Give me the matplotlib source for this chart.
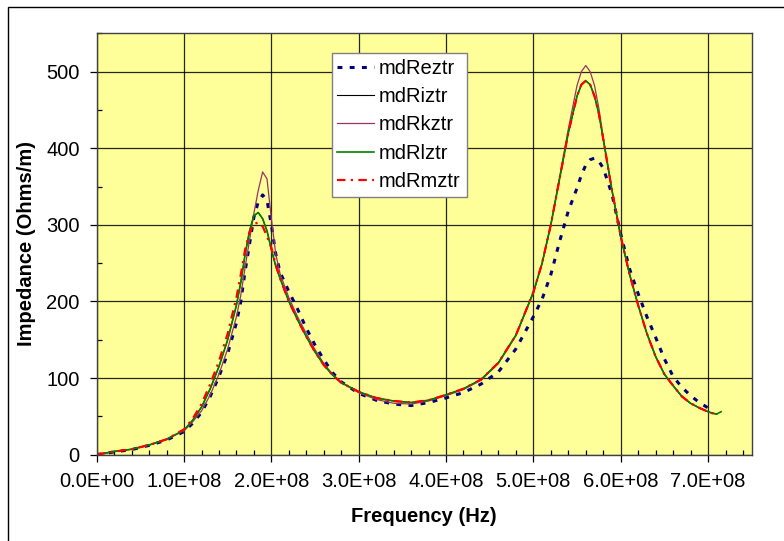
import numpy as np
import matplotlib.pyplot as plt
from matplotlib.patches import Rectangle
from matplotlib.ticker import MultipleLocator, FuncFormatter

plt.rcParams['font.family'] = ['Liberation Sans', 'DejaVu Sans']

# frequency grid, in units of 1E8 Hz
freq = [0, 0.2, 0.4, 0.6, 0.8, 1.0, 1.1, 1.2, 1.3, 1.4, 1.5, 1.6, 1.65, 1.7, 1.75,
        1.8, 1.85, 1.9, 1.95, 2.0, 2.05, 2.1, 2.2, 2.3, 2.4, 2.5, 2.6, 2.7, 2.8,
        3.0, 3.2, 3.4, 3.6, 3.8, 4.0, 4.2, 4.4, 4.6, 4.8, 5.0, 5.1, 5.2, 5.3, 5.4,
        5.5, 5.55, 5.6, 5.65, 5.7, 5.75, 5.8, 5.9, 6.0, 6.1, 6.2, 6.3, 6.4, 6.5,
        6.6, 6.7, 6.8, 6.9, 7.0, 7.05, 7.1, 7.15]

nan = np.nan

# impedance (Ohms/m) per series
mdReztr = [0, 3.5, 6.5, 12, 19, 30, 41, 55, 76, 102, 132, 172, 200, 240, 275,
           310, 330, 339, 332, 300, 262, 238, 213, 190, 165, 143, 124, 107, 95,
           80, 71, 66, 64, 68, 74, 81, 92, 108, 138, 180, 203, 235, 278, 318,
           348, 365, 378, 385, 387, 383, 374, 340, 288, 243, 210, 180, 153, 125,
           102, 88, 77, 68, 61, 58, nan, nan]

mdRiztr = [0, 4, 7, 12.5, 20, 32, 45, 62, 86, 115, 150, 195, 225, 262, 292,
           312, 316, 308, 292, 268, 246, 230, 200, 176, 154, 134, 117, 104, 94,
           82, 74, 70, 68, 71, 78, 86, 98, 120, 156, 212, 250, 300, 360, 420,
           468, 483, 488, 483, 468, 445, 412, 345, 285, 236, 195, 158, 128, 105,
           90, 76, 67, 61, 56, 54, 53, nan]

mdRkztr = [0, 4, 7, 12.5, 20, 31, 43, 57, 78, 105, 138, 180, 208, 245, 280,
           315, 345, 369, 360, 308, 262, 236, 205, 180, 158, 137, 119, 105, 94,
           81, 72, 67, 66, 70, 77, 85, 97, 119, 155, 211, 249, 300, 362, 425,
           482, 500, 508, 500, 482, 452, 414, 345, 285, 236, 195, 158, 128, 105,
           90, 76, 67, 61, 56, 54, 53, nan]

mdRlztr = [0, 4, 7, 12.5, 20, 32, 45, 62, 86, 115, 150, 195, 225, 262, 292,
           312, 316, 308, 292, 268, 246, 230, 200, 176, 154, 134, 117, 104, 94,
           82, 74, 70, 68, 71, 78, 86, 98, 120, 156, 212, 250, 300, 360, 420,
           468, 483, 488, 483, 468, 445, 412, 345, 285, 236, 195, 158, 128, 105,
           90, 76, 67, 61, 56, 54, 53, 56]

mdRmztr = [0, 4, 7, 12.5, 20, 33, 47, 66, 92, 122, 158, 205, 235, 268, 290,
           301, 303, 298, 285, 270, 248, 230, 200, 176, 154, 134, 117, 104, 94,
           82, 74, 70, 68, 71, 78, 86, 98, 120, 156, 212, 250, 300, 360, 420,
           468, 483, 488, 483, 468, 445, 412, 345, 285, 236, 195, 158, 128, 105,
           90, 76, 67, 61, 56, 54, 53, nan]

f_hz = np.array(freq) * 1e8

fig = plt.figure(figsize=(7.84, 5.41), dpi=100)
ax = fig.add_axes([96.7 / 784, 1 - 454.6 / 541, 655 / 784, 421.3 / 541])
ax.set_facecolor('#FFFF99')

ax.plot(f_hz, mdReztr, color='#000080', lw=2.2, linestyle=(0, (1.6, 2.4)), label='mdReztr')
ax.plot(f_hz, mdRiztr, color='black', lw=0.8, label='mdRiztr')
ax.plot(f_hz, mdRkztr, color='#993366', lw=0.9, label='mdRkztr')
ax.plot(f_hz, mdRlztr, color='#008000', lw=1.2, label='mdRlztr')
ax.plot(f_hz, mdRmztr, color='#FF0000', lw=1.6, linestyle=(0, (3.8, 2.4, 1, 2.4)), label='mdRmztr')

ax.set_xlim(0, 7.5e8)
ax.set_ylim(0, 550)
ax.xaxis.set_major_locator(MultipleLocator(1e8))
ax.xaxis.set_minor_locator(MultipleLocator(2e7))
ax.yaxis.set_major_locator(MultipleLocator(100))
ax.yaxis.set_minor_locator(MultipleLocator(50))
ax.xaxis.set_major_formatter(FuncFormatter(lambda v, p: f"{v:.1E}"))

ax.grid(True, which='major', color='black', lw=0.9, alpha=0.85)
ax.set_axisbelow(True)
ax.tick_params(which='major', direction='out', length=5.3, width=0.9, labelsize=14.5, pad=7)
ax.tick_params(which='minor', direction='in', length=3.5, width=0.9)
for s in ax.spines.values():
    s.set_color('#404040')
    s.set_linewidth(1.0)

ax.set_xlabel('Frequency (Hz)', fontsize=14.5, fontweight='bold')
ax.set_ylabel('Impedance (Ohms/m)', fontsize=14.5, fontweight='bold')
ax.xaxis.label.set_va('baseline')
ax.yaxis.label.set_va('baseline')
ax.xaxis.set_label_coords(0.5, (454.6 - 521.7) / 421.3)
ax.yaxis.set_label_coords((32 - 96.7) / 655, 0.5)

leg = ax.legend(loc='upper left', bbox_to_anchor=(0.359, 0.9525), borderaxespad=0,
                fontsize=14.5, fancybox=False, framealpha=1, edgecolor='#808080',
                handlelength=1.82, handletextpad=0.25, labelspacing=0.46, borderpad=0.28)
leg.get_frame().set_linewidth(1.0)

# outer chart border (only left/top edges fall inside the picture)
fig.add_artist(Rectangle((8 / 784, -0.5), 2, 1.5 - 7 / 541, transform=fig.transFigure,
                         fill=False, edgecolor='black', lw=1.0))

fig.savefig('out.png', dpi=100)
